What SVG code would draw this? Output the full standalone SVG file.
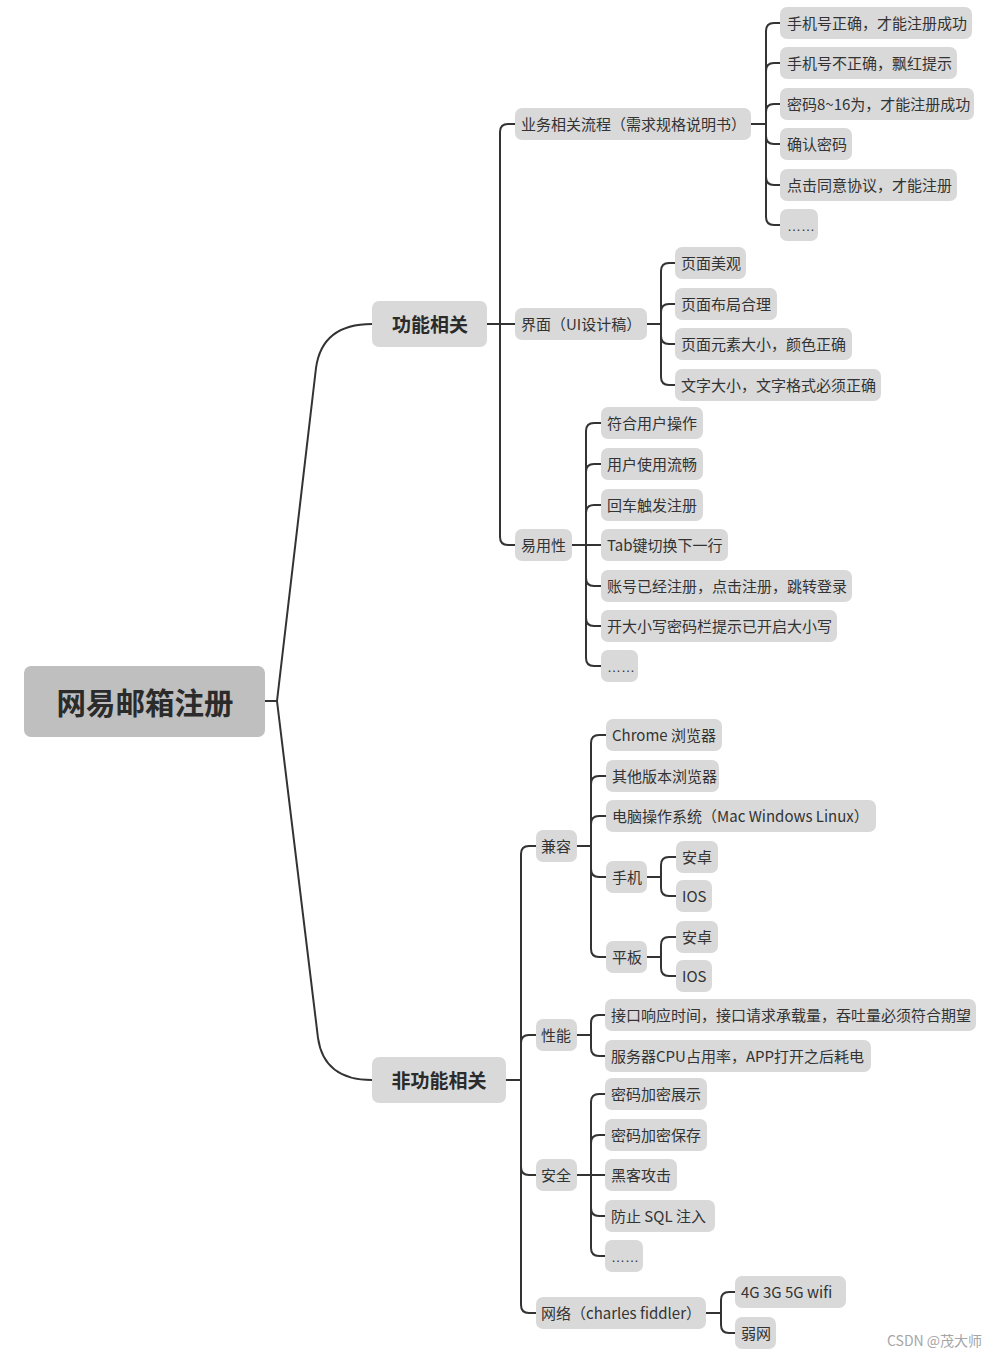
<svg xmlns="http://www.w3.org/2000/svg" width="1002" height="1357" viewBox="0 0 1002 1357">
<style>
.bg{fill:#fff}
.c{fill:none;stroke:#333;stroke-width:2}
.n rect{fill:#d9d9d9}
.n text{font-family:"Noto Sans CJK SC","Noto Sans",sans-serif;font-size:15px;fill:#333}
.n text.el{font-family:"Liberation Sans",sans-serif;font-size:14px}
.l1 rect{fill:#d9d9d9}
.l1 text{font-family:"Noto Sans CJK SC",sans-serif;font-size:19px;font-weight:bold;fill:#2b2b2b;text-anchor:middle}
.root rect{fill:#bfbfbf}
.root text{font-family:"Noto Sans CJK SC",sans-serif;font-size:29.5px;font-weight:bold;fill:#2b2b2b;text-anchor:middle}
.wm{font-family:"Noto Sans CJK SC",sans-serif;font-size:14px;fill:#a6a6a6}
</style>
<rect class="bg" x="0" y="0" width="1002" height="1357"/>
<g id="connectors">
<path class="c" d="M265,701 H277"/>
<path class="c" d="M277,701 L316,368 Q322,324 372,324"/>
<path class="c" d="M277,701 L318,1038 Q324,1080 372,1080"/>
<path class="c" d="M487,324 H515"/>
<path class="c" d="M500,324 V132 Q500,124 508,124 H515"/>
<path class="c" d="M500,324 V537 Q500,545 508,545 H515"/>
<path class="c" d="M751,124 H766"/>
<path class="c" d="M766,124 V31 Q766,23 774,23 H780"/>
<path class="c" d="M766,124 V71 Q766,63 774,63 H780"/>
<path class="c" d="M766,124 V112 Q766,104 774,104 H780"/>
<path class="c" d="M766,124 V136 Q766,144 774,144 H780"/>
<path class="c" d="M766,124 V177 Q766,185 774,185 H780"/>
<path class="c" d="M766,124 V217 Q766,225 774,225 H780"/>
<path class="c" d="M647,324 H661"/>
<path class="c" d="M661,324 V271 Q661,263 669,263 H675"/>
<path class="c" d="M661,324 V312 Q661,304 669,304 H675"/>
<path class="c" d="M661,324 V336 Q661,344 669,344 H675"/>
<path class="c" d="M661,324 V377 Q661,385 669,385 H675"/>
<path class="c" d="M572,545 H601"/>
<path class="c" d="M586,545 V431 Q586,423 594,423 H601"/>
<path class="c" d="M586,545 V472 Q586,464 594,464 H601"/>
<path class="c" d="M586,545 V513 Q586,505 594,505 H601"/>
<path class="c" d="M586,545 V578 Q586,586 594,586 H601"/>
<path class="c" d="M586,545 V618 Q586,626 594,626 H601"/>
<path class="c" d="M586,545 V658 Q586,666 594,666 H601"/>
<path class="c" d="M506,1080 H521"/>
<path class="c" d="M521,1080 V854 Q521,846 529,846 H536"/>
<path class="c" d="M521,1080 V1043 Q521,1035 529,1035 H536"/>
<path class="c" d="M521,1080 V1167 Q521,1175 529,1175 H536"/>
<path class="c" d="M521,1080 V1305 Q521,1313 529,1313 H536"/>
<path class="c" d="M577,846 H591"/>
<path class="c" d="M591,846 V743 Q591,735 599,735 H606"/>
<path class="c" d="M591,846 V784 Q591,776 599,776 H606"/>
<path class="c" d="M591,846 V824 Q591,816 599,816 H606"/>
<path class="c" d="M591,846 V869 Q591,877 599,877 H606"/>
<path class="c" d="M591,846 V949 Q591,957 599,957 H606"/>
<path class="c" d="M647,877 H661"/>
<path class="c" d="M661,877 V865 Q661,857 669,857 H676"/>
<path class="c" d="M661,877 V888 Q661,896 669,896 H676"/>
<path class="c" d="M647,957 H661"/>
<path class="c" d="M661,957 V945 Q661,937 669,937 H676"/>
<path class="c" d="M661,957 V968 Q661,976 669,976 H676"/>
<path class="c" d="M577,1035 H591"/>
<path class="c" d="M591,1035 V1023 Q591,1015 599,1015 H605"/>
<path class="c" d="M591,1035 V1048 Q591,1056 599,1056 H605"/>
<path class="c" d="M577,1175 H605"/>
<path class="c" d="M591,1175 V1102 Q591,1094 599,1094 H605"/>
<path class="c" d="M591,1175 V1143 Q591,1135 599,1135 H605"/>
<path class="c" d="M591,1175 V1208 Q591,1216 599,1216 H605"/>
<path class="c" d="M591,1175 V1248 Q591,1256 599,1256 H605"/>
<path class="c" d="M706,1313 H721"/>
<path class="c" d="M721,1313 V1300 Q721,1292 729,1292 H735"/>
<path class="c" d="M721,1313 V1325 Q721,1333 729,1333 H735"/>
</g>
<g id="root" class="root"><rect x="24" y="666" width="241" height="71" rx="7"/><text x="145" y="714">网易邮箱注册</text></g>
<g id="n-func" class="l1"><rect x="372" y="301" width="115" height="46" rx="7"/><text x="430" y="332">功能相关</text></g>
<g id="n-nonfunc" class="l1"><rect x="372" y="1057" width="134" height="46" rx="7"/><text x="439" y="1088">非功能相关</text></g>
<g id="n-biz" class="n"><rect x="515" y="108" width="236" height="32" rx="7"/><text x="521" y="130">业务相关流程（需求规格说明书）</text></g>
<g id="n-b1" class="n"><rect x="780" y="7" width="192" height="32" rx="7"/><text x="787" y="29">手机号正确，才能注册成功</text></g>
<g id="n-b2" class="n"><rect x="780" y="47" width="177" height="32" rx="7"/><text x="787" y="69">手机号不正确，飘红提示</text></g>
<g id="n-b3" class="n"><rect x="780" y="88" width="194" height="32" rx="7"/><text x="787" y="110">密码8~16为，才能注册成功</text></g>
<g id="n-b4" class="n"><rect x="780" y="128" width="72" height="32" rx="7"/><text x="787" y="150">确认密码</text></g>
<g id="n-b5" class="n"><rect x="780" y="169" width="177" height="32" rx="7"/><text x="787" y="191">点击同意协议，才能注册</text></g>
<g id="n-b6" class="n"><rect x="780" y="209" width="38" height="32" rx="7"/><text class="el" x="787" y="231">……</text></g>
<g id="n-ui" class="n"><rect x="515" y="308" width="132" height="32" rx="7"/><text x="521" y="330">界面（UI设计稿）</text></g>
<g id="n-u1" class="n"><rect x="675" y="247" width="71" height="32" rx="7"/><text x="681" y="269">页面美观</text></g>
<g id="n-u2" class="n"><rect x="675" y="288" width="102" height="32" rx="7"/><text x="681" y="310">页面布局合理</text></g>
<g id="n-u3" class="n"><rect x="675" y="328" width="177" height="32" rx="7"/><text x="681" y="350">页面元素大小，颜色正确</text></g>
<g id="n-u4" class="n"><rect x="675" y="369" width="206" height="32" rx="7"/><text x="681" y="391">文字大小，文字格式必须正确</text></g>
<g id="n-use" class="n"><rect x="515" y="529" width="57" height="32" rx="7"/><text x="521" y="551">易用性</text></g>
<g id="n-e1" class="n"><rect x="601" y="407" width="102" height="32" rx="7"/><text x="607" y="429">符合用户操作</text></g>
<g id="n-e2" class="n"><rect x="601" y="448" width="102" height="32" rx="7"/><text x="607" y="470">用户使用流畅</text></g>
<g id="n-e3" class="n"><rect x="601" y="489" width="102" height="32" rx="7"/><text x="607" y="511">回车触发注册</text></g>
<g id="n-e4" class="n"><rect x="601" y="529" width="127" height="32" rx="7"/><text x="607" y="551">Tab键切换下一行</text></g>
<g id="n-e5" class="n"><rect x="601" y="570" width="251" height="32" rx="7"/><text x="607" y="592">账号已经注册，点击注册，跳转登录</text></g>
<g id="n-e6" class="n"><rect x="601" y="610" width="236" height="32" rx="7"/><text x="607" y="632">开大小写密码栏提示已开启大小写</text></g>
<g id="n-e7" class="n"><rect x="601" y="650" width="37" height="32" rx="7"/><text class="el" x="607" y="672">……</text></g>
<g id="n-compat" class="n"><rect x="536" y="830" width="41" height="32" rx="7"/><text x="541" y="852">兼容</text></g>
<g id="n-c1" class="n"><rect x="606" y="719" width="116" height="32" rx="7"/><text x="612" y="741">Chrome 浏览器</text></g>
<g id="n-c2" class="n"><rect x="606" y="760" width="113" height="32" rx="7"/><text x="612" y="782">其他版本浏览器</text></g>
<g id="n-c3" class="n"><rect x="606" y="800" width="270" height="32" rx="7"/><text x="612" y="822">电脑操作系统（Mac Windows Linux）</text></g>
<g id="n-c4" class="n"><rect x="606" y="861" width="41" height="32" rx="7"/><text x="612" y="883">手机</text></g>
<g id="n-c41" class="n"><rect x="676" y="841" width="42" height="32" rx="7"/><text x="682" y="863">安卓</text></g>
<g id="n-c42" class="n"><rect x="676" y="880" width="36" height="32" rx="7"/><text x="682" y="902">IOS</text></g>
<g id="n-c5" class="n"><rect x="606" y="941" width="41" height="32" rx="7"/><text x="612" y="963">平板</text></g>
<g id="n-c51" class="n"><rect x="676" y="921" width="42" height="32" rx="7"/><text x="682" y="943">安卓</text></g>
<g id="n-c52" class="n"><rect x="676" y="960" width="36" height="32" rx="7"/><text x="682" y="982">IOS</text></g>
<g id="n-perf" class="n"><rect x="536" y="1019" width="41" height="32" rx="7"/><text x="541" y="1041">性能</text></g>
<g id="n-p1" class="n"><rect x="605" y="999" width="371" height="32" rx="7"/><text x="611" y="1021">接口响应时间，接口请求承载量，吞吐量必须符合期望</text></g>
<g id="n-p2" class="n"><rect x="605" y="1040" width="266" height="32" rx="7"/><text x="611" y="1062">服务器CPU占用率，APP打开之后耗电</text></g>
<g id="n-sec" class="n"><rect x="536" y="1159" width="41" height="32" rx="7"/><text x="541" y="1181">安全</text></g>
<g id="n-s1" class="n"><rect x="605" y="1078" width="102" height="32" rx="7"/><text x="611" y="1100">密码加密展示</text></g>
<g id="n-s2" class="n"><rect x="605" y="1119" width="102" height="32" rx="7"/><text x="611" y="1141">密码加密保存</text></g>
<g id="n-s3" class="n"><rect x="605" y="1159" width="72" height="32" rx="7"/><text x="611" y="1181">黑客攻击</text></g>
<g id="n-s4" class="n"><rect x="605" y="1200" width="110" height="32" rx="7"/><text x="611" y="1222">防止 SQL 注入</text></g>
<g id="n-s5" class="n"><rect x="605" y="1240" width="38" height="32" rx="7"/><text class="el" x="611" y="1262">……</text></g>
<g id="n-net" class="n"><rect x="536" y="1297" width="170" height="32" rx="7"/><text x="541" y="1319">网络（charles fiddler）</text></g>
<g id="n-w1" class="n"><rect x="735" y="1276" width="111" height="32" rx="7"/><text x="741" y="1298">4G 3G 5G wifi</text></g>
<g id="n-w2" class="n"><rect x="735" y="1317" width="41" height="32" rx="7"/><text x="741" y="1339">弱网</text></g>
<text class="wm" x="887" y="1346">CSDN @茂大师</text>
</svg>
